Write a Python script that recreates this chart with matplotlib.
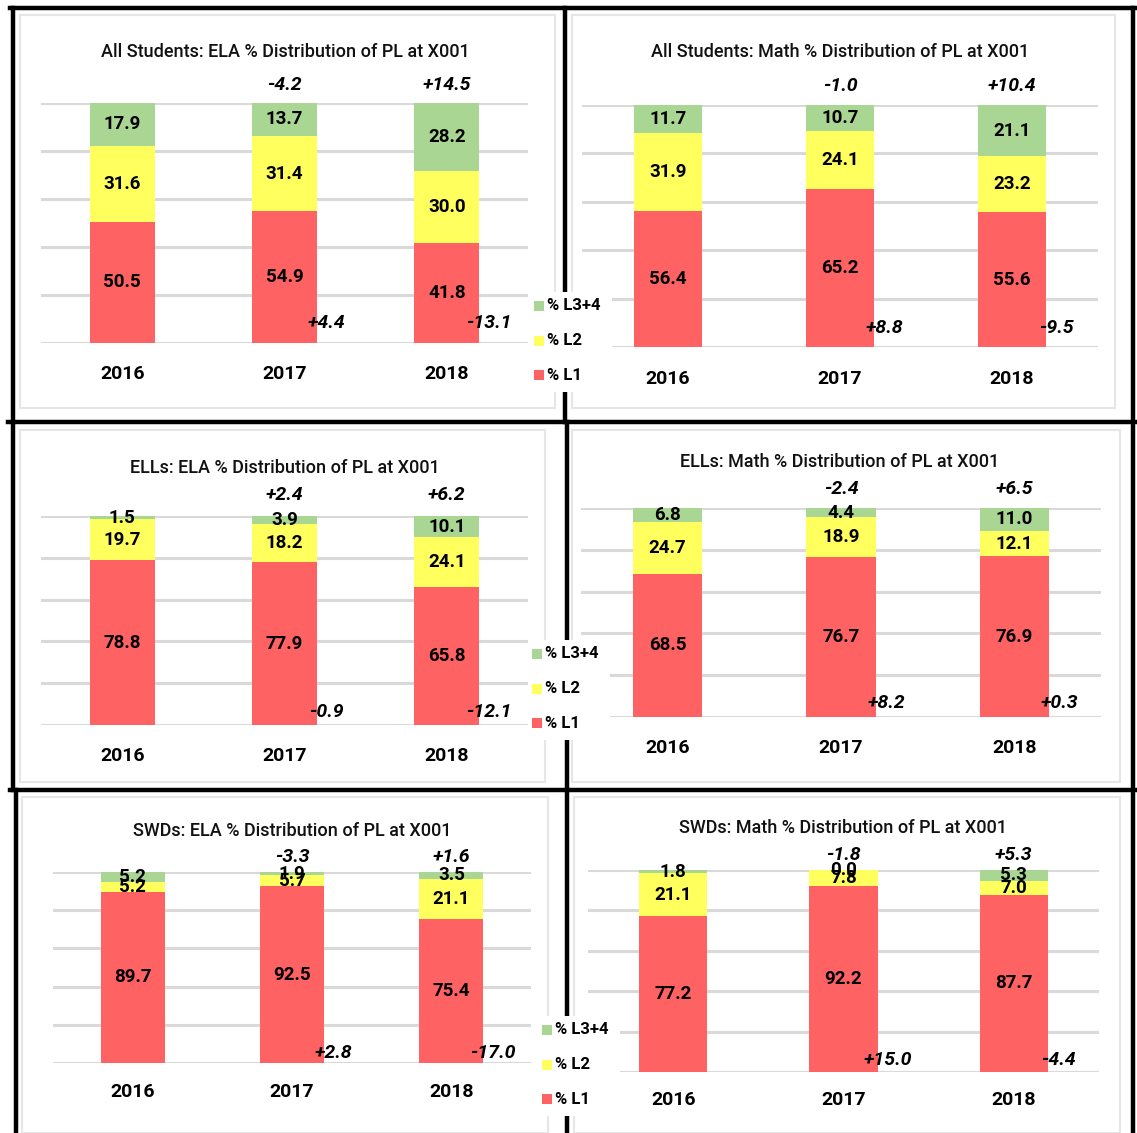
import matplotlib
matplotlib.use("Agg")
import matplotlib.pyplot as plt
from matplotlib.patches import Rectangle
from matplotlib.lines import Line2D

# ---------------- data ----------------
years = ["2016", "2017", "2018"]
series_names = ["% L3+4", "% L2", "% L1"]

titles = [
    "All Students: ELA % Distribution of PL at X001",
    "All Students: Math % Distribution of PL at X001",
    "ELLs: ELA % Distribution of PL at X001",
    "ELLs: Math % Distribution of PL at X001",
    "SWDs: ELA % Distribution of PL at X001",
    "SWDs: Math % Distribution of PL at X001",
]

l1 = [
    [50.5, 54.9, 41.8],
    [56.4, 65.2, 55.6],
    [78.8, 77.9, 65.8],
    [68.5, 76.7, 76.9],
    [89.7, 92.5, 75.4],
    [77.2, 92.2, 87.7],
]
l2 = [
    [31.6, 31.4, 30.0],
    [31.9, 24.1, 23.2],
    [19.7, 18.2, 24.1],
    [24.7, 18.9, 12.1],
    [5.2, 5.7, 21.1],
    [21.1, 7.8, 7.0],
]
l34 = [
    [17.9, 13.7, 28.2],
    [11.7, 10.7, 21.1],
    [1.5, 3.9, 10.1],
    [6.8, 4.4, 11.0],
    [5.2, 1.9, 3.5],
    [1.8, 0.0, 5.3],
]
# year-over-year change labels (2017, 2018)
chg_l34 = [
    ["-4.2", "+14.5"],
    ["-1.0", "+10.4"],
    ["+2.4", "+6.2"],
    ["-2.4", "+6.5"],
    ["-3.3", "+1.6"],
    ["-1.8", "+5.3"],
]
chg_l1 = [
    ["+4.4", "-13.1"],
    ["+8.8", "-9.5"],
    ["-0.9", "-12.1"],
    ["+8.2", "+0.3"],
    ["+2.8", "-17.0"],
    ["+15.0", "-4.4"],
]

# ---------------- style ----------------
C_GREEN = "#AAD694"
C_YELLOW = "#FFFF5E"
C_RED = "#FF6262"
GRID = "#D9D9D9"
plt.rcParams["font.family"] = ["Roboto", "DejaVu Sans"]

VAL_FS = 13.5
LAB_FS = 14
ANN_FS = 14
W, H = 1137, 1133
fig = plt.figure(figsize=(W / 100, H / 100), dpi=100)
fig.patch.set_facecolor("white")


def fx(x):
    return x / W


def fy(y):
    return 1 - y / H


# panel layout in pixels: x0, x1 (xlim span), ytop(100), ybot(0), title y, title x, label y, top-annot y, bottom-annot y
layout = [
    (41, 528, 103, 343, 52, 285, 374, 85, 323),
    (582, 1098, 105, 347, 52, 840, 379, 86, 328),
    (41, 528, 516, 725, 468, 285, 756, 495, 712),
    (581, 1101, 508, 717, 462, 840, 748, 489, 703),
    (53, 531, 872, 1063, 831, 292, 1092, 857, 1053),
    (588, 1099, 870, 1072, 828, 843, 1100, 855, 1060),
]

# light grey inner frames of each chart image
frames = [
    (20, 15, 555, 408),
    (572, 15, 1115, 408),
    (20, 430, 545, 782),
    (572, 430, 1120, 782),
    (22, 797, 548, 1133),
    (574, 797, 1120, 1133),
]
for (a, b, c, d) in frames:
    fig.patches.append(Rectangle((fx(a), fy(d)), (c - a) / W, (d - b) / H,
                                 transform=fig.transFigure, fill=False,
                                 edgecolor="#E6E6E6", lw=1.5, zorder=1))

for k in range(6):
    x0, x1, yt, yb, tty, ttx, laby, tay, bay = layout[k]
    ax = fig.add_axes([fx(x0), fy(yb), (x1 - x0) / W, (yb - yt) / H])
    ax.set_xlim(-0.5, 2.5)
    ax.set_ylim(0, 100)
    ax.axis("off")
    for g in range(0, 101, 20):
        ax.axhline(g, color=GRID, lw=2.2, zorder=0)
    xs = range(len(years))
    bw = 0.4
    ax.bar(xs, l1[k], bw, color=C_RED, zorder=2)
    ax.bar(xs, l2[k], bw, bottom=l1[k], color=C_YELLOW, zorder=2)
    b2 = [a + b for a, b in zip(l1[k], l2[k])]
    ax.bar(xs, l34[k], bw, bottom=b2, color=C_GREEN, zorder=2)
    for i in xs:
        ax.text(i, l1[k][i] / 2, f"{l1[k][i]:.1f}", ha="center", va="center",
                fontsize=VAL_FS, fontweight="bold", zorder=3)
        ax.text(i, l1[k][i] + l2[k][i] / 2, f"{l2[k][i]:.1f}", ha="center", va="center",
                fontsize=VAL_FS, fontweight="bold", zorder=3)
        ax.text(i, b2[i] + l34[k][i] / 2, f"{l34[k][i]:.1f}", ha="center", va="center",
                fontsize=VAL_FS, fontweight="bold", zorder=3)
        # year label
        ax.text(i, (yb - laby) / (yb - yt), years[i], transform=ax.get_xaxis_transform(),
                ha="center", va="center", fontsize=LAB_FS, fontweight="bold")
    for j, i in enumerate([1, 2]):
        ax.text(i, (yb - tay) / (yb - yt), chg_l34[k][j], transform=ax.get_xaxis_transform(),
                ha="center", va="center", fontsize=ANN_FS, fontweight="bold", style="italic")
        ax.text(i + 0.26, (yb - bay) / (yb - yt), chg_l1[k][j], transform=ax.get_xaxis_transform(),
                ha="center", va="center", fontsize=ANN_FS, fontweight="bold", style="italic", zorder=4)
    fig.text(fx(ttx), fy(tty), titles[k], ha="center", va="center", fontsize=13,
             fontweight="medium", color="#111111")

# black collage lines
segs = [
    ((10, 8), (1135, 8)),
    ((8, 422), (1137, 422)),
    ((10, 790), (1137, 790)),
    ((13, 8), (13, 422)),
    ((13, 422), (13, 790)),
    ((16, 790), (16, 1133)),
    ((565, 8), (565, 422)),
    ((567, 422), (567, 790)),
    ((567, 790), (567, 1133)),
    ((1133, 8), (1133, 1133)),
]
for (p, q) in segs:
    fig.add_artist(Line2D([fx(p[0]), fx(q[0])], [fy(p[1]), fy(q[1])],
                          transform=fig.transFigure, color="black", lw=3.2, zorder=3))

# legends (white boxes with three entries)
legends = [(530, 292, 306), (528, 640, 654), (538, 1016, 1030)]
colors = [C_GREEN, C_YELLOW, C_RED]
for (lx, ly, ey) in legends:
    fig.patches.append(Rectangle((fx(lx), fy(ly + 100)), 82 / W, 100 / H,
                                 transform=fig.transFigure, facecolor="white",
                                 edgecolor="none", zorder=5))
    for j in range(3):
        yy = ey + j * 34.5
        fig.patches.append(Rectangle((fx(lx + 4), fy(yy + 5)), 10 / W, 10 / H,
                                     transform=fig.transFigure, facecolor=colors[j],
                                     edgecolor="none", zorder=6))
        fig.text(fx(lx + 17), fy(yy), series_names[j], ha="left", va="center",
                 fontsize=12, fontweight="bold", zorder=6)

fig.savefig("out.png", dpi=100)
